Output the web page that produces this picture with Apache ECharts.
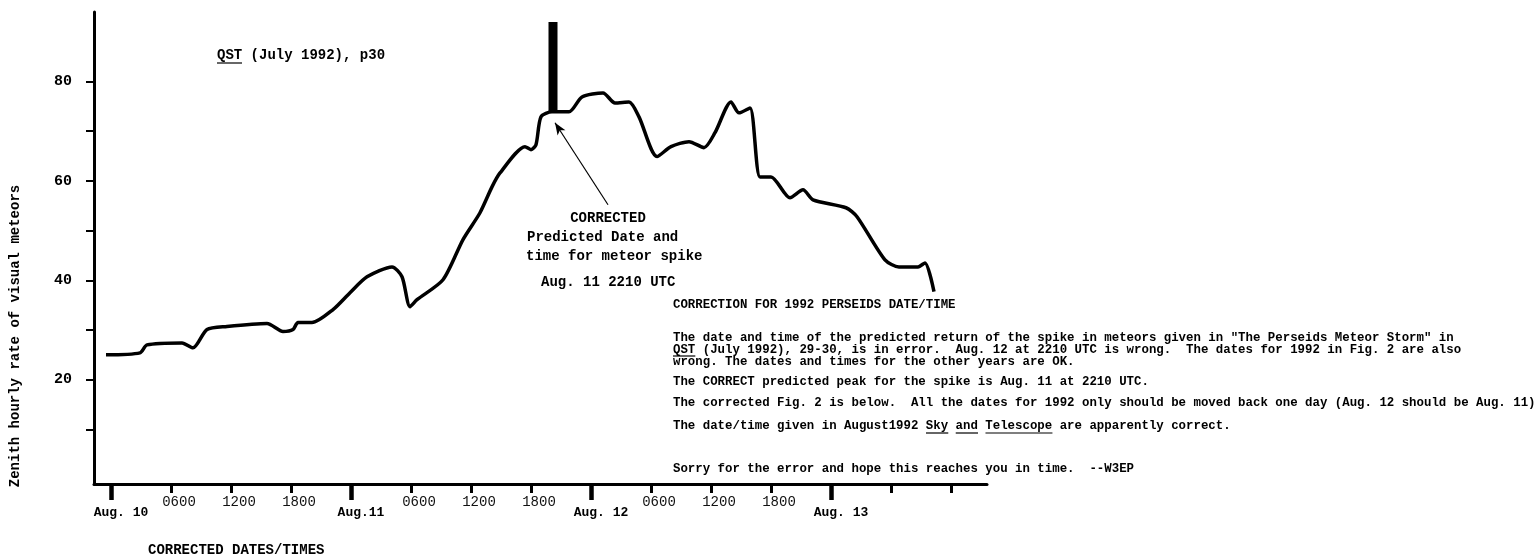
<!DOCTYPE html>
<html>
<head>
<meta charset="utf-8">
<script src="https://cdn.jsdelivr.net/npm/echarts@6/dist/echarts.min.js"></script>
<style>
  html, body { margin: 0; background: #fff; }
  #chart { width: 1538px; height: 558px; }
</style>
</head>
<body>
<div id="chart"></div>
<script>
// hours after Aug. 10 0000 UTC (corrected dates) and zenith hourly rate
const hours = [-0.5, 2.9, 3.6, 7.1, 8.2, 9.6, 11.6, 15.6, 17.2, 18.2, 18.7, 20.1, 22.2, 23.9,
  25.6, 28.1, 29.1, 29.9, 30.6, 33.2, 35.2, 36.9, 38.1, 38.9, 41.4, 42.0, 42.5, 43.0, 44.1,
  45.8, 47.1, 49.2, 50.4, 51.8, 52.8, 54.6, 56.0, 57.8, 59.3, 60.4, 62.0, 62.8, 63.9, 64.9,
  66.0, 67.9, 69.2, 70.2, 73.5, 74.6, 77.4, 78.8, 80.7, 81.4, 82.3]
const zhr = [25.0, 25.4, 27.0, 27.4, 26.4, 30.1, 30.7, 31.3, 29.7, 30.1, 31.5, 31.5, 34.1, 37.5,
  40.7, 42.7, 40.7, 34.7, 36.1, 40.1, 48.2, 53.6, 58.8, 61.6, 66.9, 66.3, 67.3, 72.9, 73.9,
  73.9, 76.9, 77.7, 75.7, 75.9, 72.9, 64.9, 66.9, 67.9, 66.7, 69.7, 75.9, 73.7, 74.7, 60.8,
  60.8, 56.6, 58.2, 56.2, 54.6, 52.8, 44.1, 42.7, 42.7, 43.5, 37.7]

// predicted meteor spike (Aug. 11 2210 UTC)
const spikeHour = 44.2
const spikeRange = [73.9, 92]
const arrowFrom = [49.7, 55.2]
const arrowTo = [44.4, 71.7]

// axis ticks
const dayTicks = [0, 24, 48, 72]
const dayLabels = ['Aug. 10', 'Aug.11', 'Aug. 12', 'Aug. 13']
const hourTicks = [6, 12, 18, 30, 36, 42, 54, 60, 66, 78, 84]
const hourLabelTicks = [6, 12, 18, 30, 36, 42, 54, 60, 66]
const hourLabels = ['0600', '1200', '1800', '0600', '1200', '1800', '0600', '1200', '1800']
const yTicks = [10, 20, 30, 40, 50, 60, 70, 80]
const yLabels = [20, 40, 60, 80]

const noteLines = [
  'CORRECTION FOR 1992 PERSEIDS DATE/TIME',
  'The date and time of the predicted return of the spike in meteors given in "The Perseids Meteor Storm" in',
  'QST (July 1992), 29-30, is in error.  Aug. 12 at 2210 UTC is wrong.  The dates for 1992 in Fig. 2 are also',
  'wrong. The dates and times for the other years are OK.',
  'The CORRECT predicted peak for the spike is Aug. 11 at 2210 UTC.',
  'The corrected Fig. 2 is below.  All the dates for 1992 only should be moved back one day (Aug. 12 should be Aug. 11)',
  'The date/time given in August1992 Sky and Telescope are apparently correct.',
  'Sorry for the error and hope this reaches you in time.  --W3EP'
]
const noteY = [305, 338, 350, 362, 382, 403, 426, 469]

const mono = '"Liberation Mono", "DejaVu Sans Mono", monospace'

const chart = echarts.init(document.getElementById('chart'))

// 文本与下划线
const noteX = 673
const noteSize = 12.4
const noteCharW = noteSize * 0.6
const graphics = []

const addText = (text, x, y, size, align = 'left', weight = 'bold') => {
  graphics.push({
    type: 'text',
    style: { text, x, y, font: `${weight} ${size}px ${mono}`, fill: '#000', textAlign: align, textVerticalAlign: 'middle' },
  })
}
const underline = (x1, x2, y) => {
  graphics.push({ type: 'line', shape: { x1, y1: y, x2, y2: y }, style: { stroke: '#000', lineWidth: 1.2 } })
}

addText('QST (July 1992), p30', 217, 55, 14)
underline(217, 242, 63)

addText('CORRECTED', 608, 218, 14, 'center')
addText('Predicted Date and', 527, 237, 14)
addText('time for meteor spike', 526, 256, 14)
addText('Aug. 11 2210 UTC', 541, 282, 14)

noteLines.forEach((line, i) => addText(line, noteX, noteY[i], noteSize))
underline(noteX, noteX + 3 * noteCharW, noteY[2] + 6)
const skyLine = noteLines[6]
;['Sky', 'and', 'Telescope'].forEach((w) => {
  const idx = skyLine.indexOf(w === 'and' ? 'and Tel' : w)
  underline(noteX + idx * noteCharW, noteX + (idx + w.length) * noteCharW, noteY[6] + 7)
})

graphics.push({
  type: 'text',
  x: 15,
  y: 336,
  rotation: Math.PI / 2,
  style: { text: 'Zenith hourly rate of visual meteors', x: 0, y: 0, font: `bold 14px ${mono}`, fill: '#000', textAlign: 'center', textVerticalAlign: 'middle' },
})
addText('CORRECTED DATES/TIMES', 148, 550, 14)

const option = {
  animation: false,
  backgroundColor: '#fff',
  grid: { left: 94, right: 551, top: 12, bottom: 74 },
  xAxis: [
    {
      type: 'value',
      min: -1.7,
      max: 87.6,
      axisLine: { show: true, onZero: false, lineStyle: { color: '#000', width: 3 } },
      axisTick: { show: true, customValues: hourTicks, length: 9, lineStyle: { color: '#000', width: 3 } },
      axisLabel: {
        customValues: hourLabelTicks,
        formatter: (v) => hourLabels[hourLabelTicks.indexOf(v)] || '',
        margin: 11,
        padding: [0, 0, 0, 16],
        fontFamily: mono,
        fontSize: 14,
        color: '#111',
      },
      splitLine: { show: false },
    },
    {
      type: 'value',
      min: -1.7,
      max: 87.6,
      position: 'bottom',
      axisLine: { show: false, onZero: false },
      axisTick: { show: true, customValues: dayTicks, length: 16, lineStyle: { color: '#000', width: 4.5 } },
      axisLabel: {
        customValues: dayTicks,
        formatter: (v) => dayLabels[dayTicks.indexOf(v)] || '',
        margin: 22,
        padding: [0, 0, 0, 20],
        fontFamily: mono,
        fontWeight: 'bold',
        fontSize: 13,
        color: '#000',
      },
      splitLine: { show: false },
    },
  ],
  yAxis: {
    type: 'value',
    min: -1,
    max: 94,
    axisLine: { show: true, onZero: false, lineStyle: { color: '#000', width: 3 } },
    axisTick: { show: true, customValues: yTicks, length: 8, lineStyle: { color: '#000', width: 2 } },
    axisLabel: {
      customValues: yLabels,
      margin: 22,
      fontFamily: mono,
      fontWeight: 'bold',
      fontSize: 15,
      color: '#000',
    },
    splitLine: { show: false },
  },
  series: [
    {
      type: 'line',
      data: hours.map((h, i) => [h, zhr[i]]),
      showSymbol: false,
      smooth: 0.25,
      lineStyle: { color: '#000', width: 3.5 },
    },
    {
      type: 'line',
      data: [[spikeHour, spikeRange[0]], [spikeHour, spikeRange[1]]],
      showSymbol: false,
      lineStyle: { color: '#000', width: 9, cap: 'butt' },
      markLine: {
        silent: true,
        symbol: ['none', 'arrow'],
        symbolSize: [7, 12],
        label: { show: false },
        lineStyle: { color: '#000', width: 1.2, type: 'solid' },
        data: [[{ coord: arrowFrom }, { coord: arrowTo }]],
      },
    },
  ],
  graphic: graphics,
}

chart.setOption(option)
</script>
</body>
</html>
